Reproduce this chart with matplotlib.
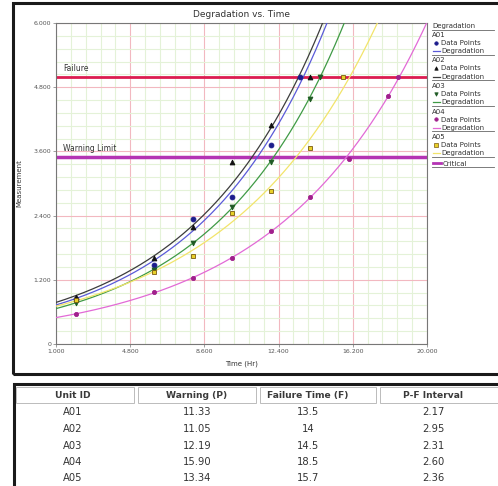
import numpy as np
import matplotlib.pyplot as plt
from matplotlib.lines import Line2D
from matplotlib.patches import Rectangle
from matplotlib.ticker import MultipleLocator, AutoMinorLocator, FuncFormatter

a01_t = [2, 6, 8, 10, 12, 13.5]
a01_y = [0.85, 1.48, 2.34, 2.75, 3.72, 5.0]
a02_t = [2, 6, 8, 10, 12, 14]
a02_y = [0.88, 1.61, 2.19, 3.40, 4.09, 5.0]
a03_t = [2, 6, 8, 10, 12, 14, 14.5]
a03_y = [0.77, 1.38, 1.89, 2.56, 3.40, 4.58, 5.0]
a04_t = [2, 6, 8, 10, 12, 14, 16, 18, 18.5]
a04_y = [0.56, 0.97, 1.23, 1.60, 2.11, 2.75, 3.46, 4.64, 5.0]
a05_t = [2, 6, 8, 10, 12, 14, 15.7]
a05_y = [0.82, 1.35, 1.65, 2.45, 2.86, 3.66, 5.0]

failure_level = 5.0
warning_level = 3.5

# table
unit_ids = ['A01', 'A02', 'A03', 'A04', 'A05']
warning_p = ['11.33', '11.05', '12.19', '15.90', '13.34']
failure_f = ['13.5', '14', '14.5', '18.5', '15.7']
pf_interval = ['2.17', '2.95', '2.31', '2.60', '2.36']
headers = ['Unit ID', 'Warning (P)', 'Failure Time (F)', 'P-F Interval']

series = [
    ('A01', a01_t, a01_y, '#5a5ad8', 'o', '#1c1c8c', '#1c1c8c', 3.5),
    ('A02', a02_t, a02_y, '#3c3c3c', '^', '#111111', '#111111', 3.5),
    ('A03', a03_t, a03_y, '#3f9a45', 'v', '#1f5a24', '#1f5a24', 3.5),
    ('A04', a04_t, a04_y, '#e26ad6', 'o', '#a0208c', '#a0208c', 3),
    ('A05', a05_t, a05_y, '#f2e46a', 's', '#e8d02a', '#7a5a10', 3.5),
]

W, H = 498, 486
fig = plt.figure(figsize=(W / 100, H / 100), dpi=100)
fx = lambda x: x / W
fy = lambda y: 1 - y / H

ax = fig.add_axes([fx(56), fy(344), fx(427) - fx(56), fy(23) - fy(344)])
ax.set_xlim(1, 20)
ax.set_ylim(0, 6)

ax.xaxis.set_major_locator(MultipleLocator(3.8, offset=1))
ax.yaxis.set_major_locator(MultipleLocator(1.2))
ax.xaxis.set_minor_locator(AutoMinorLocator(5))
ax.yaxis.set_minor_locator(AutoMinorLocator(5))
fmt = FuncFormatter(lambda v, p: '0' if abs(v) < 1e-9 else f'{v:.3f}')
ax.xaxis.set_major_formatter(fmt)
ax.yaxis.set_major_formatter(fmt)
ax.grid(which='major', color='#f2b8c0', lw=0.8)
ax.grid(which='minor', color='#e4f2d8', lw=0.8)
ax.tick_params(which='major', labelsize=4.5, labelcolor='#555555', length=2, width=0.5, color='#777777', pad=1.5)
ax.tick_params(which='minor', length=0)
for s in ax.spines.values():
    s.set_color('#777777')
    s.set_linewidth(0.8)

tt = np.linspace(1, 20, 400)
for name, t, y, lc, mk, mfc, mec, ms in series:
    b, lna = np.polyfit(t, np.log(y), 1)
    ax.plot(tt, np.exp(lna + b * tt), color=lc, lw=0.9, zorder=3)
    ax.plot(t, y, ls='none', marker=mk, ms=ms, mfc=mfc, mec=mec, mew=0.6, zorder=4)

ax.axhline(failure_level, color='#dc1c50', lw=2, zorder=2)
ax.axhline(warning_level, color='#b434b4', lw=2.5, zorder=2)
ax.text(1.35, failure_level + 0.07, 'Failure', fontsize=5.5, color='#333333', va='bottom')
ax.text(1.35, warning_level + 0.07, 'Warning Limit', fontsize=5.5, color='#333333', va='bottom')

ax.set_title('Degradation vs. Time', fontsize=6.5, color='#333333', pad=4)
ax.set_xlabel('Time (Hr)', fontsize=5, color='#333333', labelpad=5)
ax.set_ylabel('Measurement', fontsize=5, color='#333333', labelpad=8)

# legend drawn by hand on the right
lx = 432
y0 = 26
def uline(y):
    fig.add_artist(Line2D([fx(lx), fx(494)], [fy(y), fy(y)], color='#666666', lw=0.6))
fig.text(fx(lx), fy(y0), 'Degradation', fontsize=5, color='#333333', va='center')
uline(y0 + 4)
yy = y0 + 9
for name, t, y, lc, mk, mfc, mec, ms in series:
    fig.text(fx(lx), fy(yy), name, fontsize=5, color='#333333', va='center')
    fig.add_artist(Line2D([fx(436)], [fy(yy + 8)], marker=mk, ms=2.5, mfc=mfc, mec=mec, mew=0.5, ls='none'))
    fig.text(fx(441), fy(yy + 8), 'Data Points', fontsize=5, color='#333333', va='center')
    fig.add_artist(Line2D([fx(433), fx(440)], [fy(yy + 16.5), fy(yy + 16.5)], color=lc, lw=0.9))
    fig.text(fx(441), fy(yy + 16), 'Degradation', fontsize=5, color='#333333', va='center')
    uline(yy + 20)
    yy += 25.5
fig.add_artist(Line2D([fx(433), fx(441)], [fy(yy + 1), fy(yy + 1)], color='#b434b4', lw=2))
fig.text(fx(443), fy(yy + 1), 'Critical', fontsize=5, color='#333333', va='center')
uline(yy + 5)

# chart frame
fig.add_artist(Rectangle((fx(13), fy(374)), fx(520) - fx(13), fy(3) - fy(374),
                         fill=False, ec='#1a1a1a', lw=2.2))

# table below the chart
fig.add_artist(Rectangle((fx(14), fy(500)), fx(520) - fx(14), fy(384) - fy(500),
                         fill=False, ec='#1a1a1a', lw=2.2))
col_x = [73, 197, 308, 433]
col_edges = [14, 136, 258, 378, 500]
for i in range(4):
    fig.add_artist(Rectangle((fx(col_edges[i] + 2), fy(403)), fx(col_edges[i + 1] - 2) - fx(col_edges[i] + 2),
                             fy(387) - fy(403), fill=False, ec='#bbbbbb', lw=0.7))
    fig.text(fx(col_x[i]), fy(395), headers[i], fontsize=6.6, fontweight='bold',
             color='#3a3a3a', ha='center', va='center')
row_y = [412, 429, 446, 462, 478]
for r in range(5):
    for c, v in enumerate([unit_ids[r], warning_p[r], failure_f[r], pf_interval[r]]):
        fig.text(fx(col_x[c]), fy(row_y[r]), v, fontsize=7.2, color='#333333',
                 ha='center', va='center')

fig.savefig('out.png', dpi=100)
